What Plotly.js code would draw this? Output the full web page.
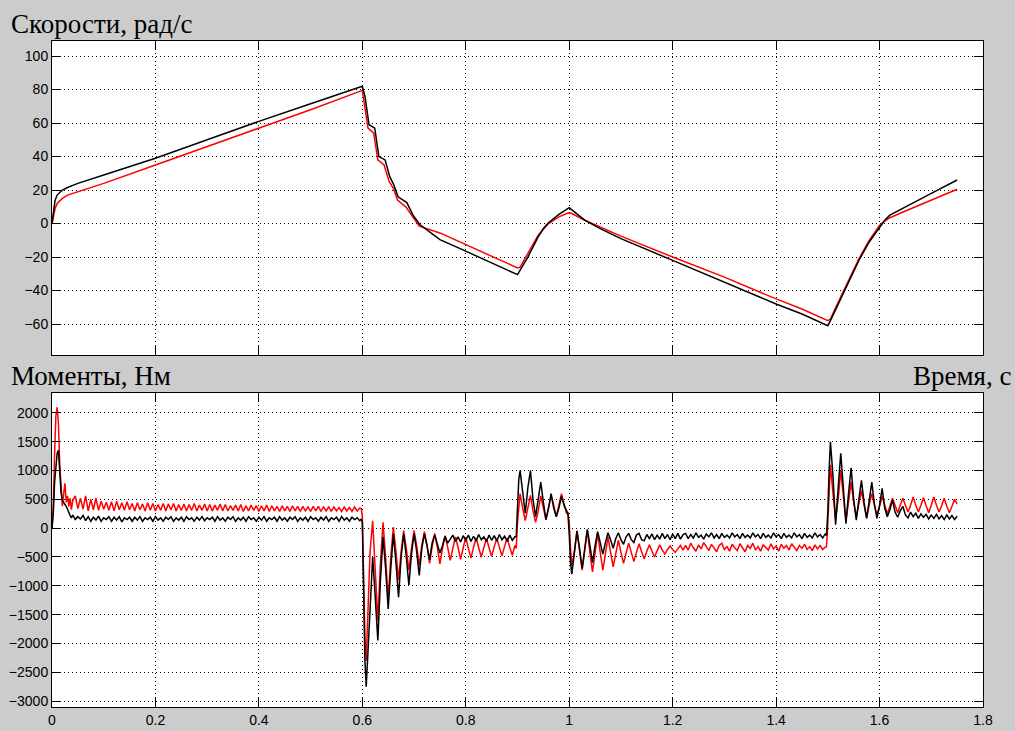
<!DOCTYPE html>
<html><head><meta charset="utf-8">
<script src="https://cdn.plot.ly/plotly-3.0.1.min.js"></script>
<style>html,body{margin:0;padding:0;background:#cccccc;} #chart{width:1015px;height:731px;}</style>
</head><body><div id="chart"></div>
<script>
// ---------- tick labels ----------
const timeTicks = [0,0.2,0.4,0.6,0.8,1,1.2,1.4,1.6,1.8];
const timeTickText = ['0','0.2','0.4','0.6','0.8','1','1.2','1.4','1.6','1.8'];
const speedTicks = [-60,-40,-20,0,20,40,60,80,100];
const torqueTicks = [-3000,-2500,-2000,-1500,-1000,-500,0,500,1000,1500,2000];

// ---------- speeds, rad/s ----------
const speedTimeBlack = [0,0.003,0.006,0.01,0.02,0.03,0.05,0.1,0.2,0.3,0.4,0.5,0.6,0.605,0.613,0.624,0.632,0.644,0.653,0.661,0.669,0.686,0.698,0.711,0.75,0.8,0.85,0.9,0.92,0.94,0.95,0.96,0.98,1.0,1.01,1.03,1.06,1.1,1.2,1.3,1.4,1.45,1.5,1.505,1.52,1.54,1.56,1.58,1.6,1.61,1.62,1.65,1.7,1.75];
const speedBlack = [0,8,14,17,20,21.5,24,29,39,50,61,71.5,82,76,59,57,40,38,28,23,16,12.5,5,-0.6,-9.6,-16.5,-23.5,-30.5,-20,-8,-3,0.5,5.5,9.5,7,2,-3,-9,-22,-35,-48,-54,-61,-58,-48,-35,-22,-11,-2,2,5,10,18,26];
const speedTimeRed = [0,0.003,0.006,0.01,0.02,0.03,0.05,0.1,0.2,0.3,0.4,0.5,0.6,0.604,0.611,0.622,0.63,0.642,0.652,0.66,0.668,0.684,0.697,0.71,0.75,0.8,0.85,0.9,0.905,0.92,0.94,0.96,0.98,1.0,1.005,1.03,1.06,1.1,1.2,1.3,1.4,1.45,1.5,1.505,1.52,1.54,1.56,1.58,1.6,1.61,1.62,1.65,1.7,1.75];
const speedRed = [0,5,9,12,15,17,19,24,35,46,57,68,79.5,72,57,54,38,35,25,21,14,10,4,-1.6,-5.6,-12.5,-19.5,-26.5,-26,-18,-7,0,4,6.5,6,2,-2,-7.5,-20,-32,-45,-51,-58,-57,-47,-34,-21,-10,-1,1.5,3.5,7.5,14,20.5];

// ---------- torques, Nm ----------
const torqueTime = [
0,0.0025,0.005,0.0075,0.01,0.0125,0.015,0.0175,0.02,0.0225,0.025,0.0275,0.03,0.0325,0.035,0.0375,0.04,0.045,0.05,
0.055,0.06,0.065,0.07,0.075,0.08,0.085,0.09,0.095,0.1,
0.105,0.11,0.115,0.12,0.125,0.13,0.135,0.14,0.145,0.15,
0.155,0.16,0.165,0.17,0.175,0.18,0.185,0.19,0.195,0.2,
0.205,0.21,0.215,0.22,0.225,0.23,0.235,0.24,0.245,0.25,
0.255,0.26,0.265,0.27,0.275,0.28,0.285,0.29,0.295,0.3,
0.305,0.31,0.315,0.32,0.325,0.33,0.335,0.34,0.345,0.35,
0.355,0.36,0.365,0.37,0.375,0.38,0.385,0.39,0.395,0.4,
0.405,0.41,0.415,0.42,0.425,0.43,0.435,0.44,0.445,0.45,
0.455,0.46,0.465,0.47,0.475,0.48,0.485,0.49,0.495,0.5,
0.505,0.51,0.515,0.52,0.525,0.53,0.535,0.54,0.545,0.55,
0.555,0.56,0.565,0.57,0.575,0.58,0.585,0.59,0.595,
0.598,0.6,0.6025,0.605,0.6075,0.61,
0.615,0.62,0.625,0.63,0.635,0.64,0.645,0.65,0.655,0.66,
0.665,0.67,0.675,0.68,0.685,0.69,0.695,0.7,0.705,0.71,
0.715,0.72,0.725,0.73,0.735,0.74,0.745,0.75,
0.755,0.76,0.765,0.77,0.775,0.78,0.785,0.79,0.795,0.8,
0.805,0.81,0.815,0.82,0.825,0.83,0.835,0.84,0.845,0.85,
0.855,0.86,0.865,0.87,0.875,0.88,0.885,0.89,0.895,
0.8975,0.9,0.9025,0.905,
0.91,0.915,0.92,0.925,0.93,0.935,0.94,0.945,0.95,0.955,
0.96,0.965,0.97,0.975,0.98,0.985,0.99,0.995,
0.9975,1,1.0025,1.005,
1.01,1.015,1.02,1.025,1.03,1.035,1.04,1.045,1.05,1.055,
1.06,1.065,1.07,1.075,1.08,1.085,1.09,1.095,1.1,1.105,
1.11,1.115,1.12,1.125,1.13,1.135,1.14,1.145,1.15,1.155,
1.16,1.165,1.17,1.175,1.18,1.185,1.19,1.195,1.2,1.205,
1.21,1.215,1.22,
1.225,1.23,1.235,1.24,1.245,1.25,1.255,1.26,1.265,1.27,
1.275,1.28,1.285,1.29,1.295,1.3,1.305,1.31,1.315,1.32,
1.325,1.33,1.335,1.34,1.345,1.35,1.355,1.36,1.365,1.37,
1.375,1.38,1.385,1.39,1.395,1.4,1.405,1.41,1.415,1.42,
1.425,1.43,1.435,1.44,1.445,1.45,1.455,1.46,1.465,1.47,
1.475,1.48,1.485,1.49,1.495,
1.4975,1.5,1.5025,1.505,
1.51,1.515,1.52,1.525,1.53,1.535,1.54,1.545,1.55,1.555,
1.56,1.565,1.57,1.575,1.58,1.585,1.59,1.595,1.6,1.605,
1.61,1.615,1.62,1.625,1.63,1.635,1.64,1.645,1.65,1.655,
1.66,1.665,1.67,1.675,1.68,1.685,1.69,1.695,1.7,1.705,
1.71,1.715,1.72,1.725,1.73,1.735,1.74,1.745,1.75
];
const torqueRed = [
0,400,1300,1950,2100,1800,1100,700,380,600,780,450,560,380,520,320,480,560,340,
520,330,560,300,500,320,520,310,470,330,
450,310,460,300,470,320,440,310,460,320,
430,300,440,320,420,300,440,310,430,300,
410,310,430,300,420,320,430,300,410,310,
420,300,410,310,430,300,400,310,420,300,
410,300,400,310,420,300,410,300,390,310,
400,300,410,290,390,300,400,310,390,290,
390,300,400,290,390,300,380,290,390,300,
380,290,390,300,380,290,380,300,370,290,
380,300,380,290,370,300,370,290,370,300,
360,290,370,300,360,290,370,300,350,
340,200,-800,-1900,-2300,-1700,
-400,130,-700,-1600,-600,100,-500,-1250,-500,20,
-400,-900,-400,-40,-350,-730,-350,-40,-300,-640,
-300,-60,-300,-610,-320,-90,-330,-620,
-350,-130,-330,-560,-350,-150,-330,-540,-340,-160,
-350,-520,-330,-170,-340,-500,-330,-180,-340,-490,
-320,-180,-330,-480,-320,-170,-330,-470,-300,
-350,100,450,600,
350,130,350,570,300,100,300,560,350,150,
350,560,400,200,400,600,420,250,
280,100,-350,-650,
-400,-40,-400,-730,-400,-40,-420,-760,-430,-90,
-420,-730,-440,-150,-420,-670,-440,-210,-420,-610,
-430,-260,-420,-580,-420,-270,-410,-530,-400,-290,
-400,-500,-390,-290,-380,-450,-370,-310,-370,-420,
-360,-300,-380,
-300,-380,-260,-340,-400,-290,-360,-250,-330,-390,
-280,-350,-410,-300,-260,-370,-320,-400,-280,-340,
-390,-270,-330,-410,-300,-350,-260,-380,-320,-400,
-290,-340,-380,-270,-360,-310,-400,-280,-350,-300,
-380,-270,-340,-390,-300,-350,-280,-370,-320,-390,
-290,-360,-300,-370,-330,
-320,100,700,1100,
600,150,500,1000,550,120,450,800,450,200,
420,650,400,180,400,600,400,230,380,550,
400,250,380,520,400,270,400,520,400,280,
400,540,400,280,400,530,390,270,400,540,
400,280,390,520,380,270,380,500,420
];
const torqueBlack = [
0,250,800,1150,1300,1350,900,620,480,450,420,380,330,260,220,180,230,150,200,
160,220,130,200,120,190,140,210,120,180,
150,200,120,190,140,200,110,180,150,190,
120,190,140,200,120,180,150,190,120,200,
140,180,120,190,150,200,120,180,140,190,
120,200,150,180,120,190,140,200,130,180,
150,190,120,200,140,180,120,190,150,200,
120,180,140,190,120,200,150,180,120,190,
140,200,120,180,150,190,120,200,140,180,
120,190,150,200,120,180,140,190,120,200,
150,180,120,190,140,200,120,180,150,190,
120,200,140,180,120,190,150,180,130,
160,100,-1200,-2300,-2750,-2300,
-1200,-500,-1200,-1950,-900,-150,-700,-1400,-700,-100,
-600,-1200,-500,-100,-500,-990,-450,-100,-400,-820,
-350,-100,-300,-550,-250,-120,-280,-430,
-300,-140,-260,-180,-120,-230,-150,-240,-130,-210,
-120,-230,-140,-220,-110,-200,-150,-230,-120,-210,
-130,-220,-110,-200,-140,-230,-120,-210,-150,
-150,400,850,1000,
600,260,700,1000,500,200,500,800,450,150,
350,600,350,200,350,550,400,300,
250,-100,-600,-800,
-400,-50,-350,-700,-350,-20,-300,-600,-300,-60,
-250,-450,-250,-80,-200,-350,-180,-80,-200,-280,
-150,-90,-200,-250,-120,-90,-200,-220,-110,-180,
-100,-200,-120,-190,-90,-180,-110,-200,-100,-180,
-90,-190,-110,
-90,-180,-110,-170,-80,-160,-120,-190,-100,-150,
-80,-170,-110,-180,-90,-160,-120,-170,-80,-150,
-110,-180,-90,-160,-120,-170,-80,-150,-110,-180,
-90,-160,-120,-170,-80,-150,-110,-180,-90,-160,
-120,-170,-80,-150,-110,-180,-90,-160,-120,-170,
-80,-150,-110,-170,-100,
-130,300,1000,1500,
900,60,700,1300,700,80,600,1050,500,140,
500,830,450,170,480,800,420,170,400,690,
350,200,320,490,280,190,300,380,230,180,
280,200,260,170,250,190,240,160,230,170,
240,160,220,150,230,160,220,150,210
];

// ---------- chart ----------
const lineW = 1.5;
const traces = [
  {x: speedTimeRed, y: speedRed, xaxis:'x', yaxis:'y', mode:'lines', line:{color:'#ff0000', width:lineW}},
  {x: speedTimeBlack, y: speedBlack, xaxis:'x', yaxis:'y', mode:'lines', line:{color:'#000000', width:lineW}},
  {x: torqueTime, y: torqueRed, xaxis:'x2', yaxis:'y2', mode:'lines', line:{color:'#ff0000', width:lineW}},
  {x: torqueTime, y: torqueBlack, xaxis:'x2', yaxis:'y2', mode:'lines', line:{color:'#000000', width:lineW}}
];

const tickFont = {family:'Liberation Sans, Arial, sans-serif', size:14, color:'#000'};
const common = {showline:true, linecolor:'#000', linewidth:1, mirror:'ticks', ticks:'inside', ticklen:9,
  tickcolor:'#000', tickwidth:1, showgrid:true, gridcolor:'#000', gridwidth:1, griddash:'1px,3px',
  zeroline:false, tickfont:tickFont, fixedrange:true};

const titleFont = {family:'Liberation Serif, Times New Roman, serif', size:27, color:'#000'};

const layout = {
  width:1015, height:731,
  margin:{l:52, r:32, t:41, b:24},
  paper_bgcolor:'#cccccc', plot_bgcolor:'#ffffff',
  showlegend:false, hovermode:false,
  xaxis: Object.assign({}, common, {domain:[0,1], range:[0,1.8], tickvals:timeTicks, showticklabels:false, anchor:'y'}),
  yaxis: Object.assign({}, common, {domain:[0.5285,1], range:[-78.5,109], tickvals:speedTicks, anchor:'x'}),
  xaxis2: Object.assign({}, common, {domain:[0,1], range:[0,1.8], tickvals:timeTicks, ticktext:timeTickText, anchor:'y2'}),
  yaxis2: Object.assign({}, common, {domain:[0,0.4715], range:[-3104,2347], tickvals:torqueTicks, anchor:'x2'}),
  annotations:[
    {text:'Скорости, рад/с', xref:'paper', yref:'paper', x:-0.0462, y:1.025, xanchor:'left', yanchor:'middle', showarrow:false, font:titleFont},
    {text:'Моменты, Нм', xref:'paper', yref:'paper', x:-0.0462, y:0.4965, xanchor:'left', yanchor:'middle', showarrow:false, font:titleFont},
    {text:'Время, с', xref:'paper', yref:'paper', x:1.0322, y:0.4965, xanchor:'right', yanchor:'middle', showarrow:false, font:titleFont}
  ]
};

Plotly.newPlot('chart', traces, layout, {staticPlot:true, displayModeBar:false});
</script>
</body></html>
